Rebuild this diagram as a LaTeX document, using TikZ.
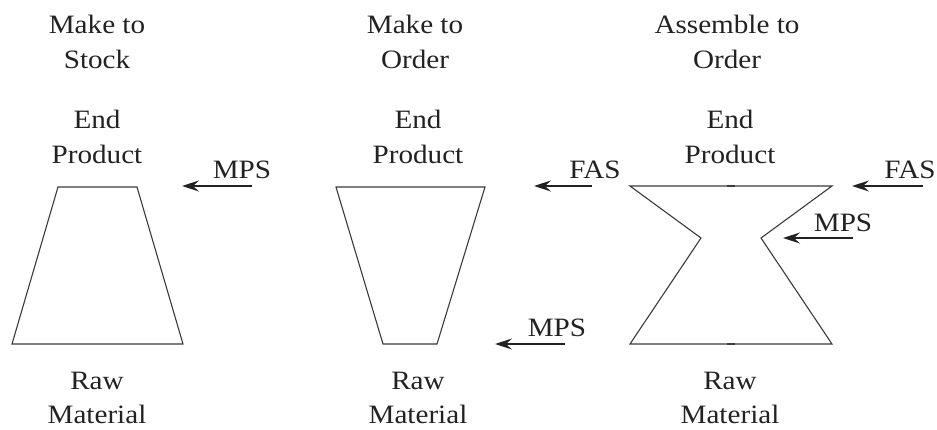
\documentclass[tikz,border=0pt]{standalone}
\usepackage{fontspec}
\setmainfont{Liberation Serif}[FakeStretch=1.1]
\usetikzlibrary{arrows.meta}

\definecolor{ink}{HTML}{222222}
\definecolor{edge}{HTML}{3A3A3A}

\begin{document}
\begin{tikzpicture}[x=1pt,y=-1pt,
  lbl/.style={inner sep=0pt, anchor=base, text=ink,
    font=\fontsize{26.5}{35}\selectfont},
  outline/.style={draw=edge, line width=1.1pt, line join=miter},
  feed/.style={draw=ink, line width=1.4pt,
    -{Stealth[length=17pt, width=11pt, inset=6pt]}},
  tick/.style={draw=edge, line width=2pt}]
  \useasboundingbox (0,0) rectangle (937,429);

  % column headings
  \node[lbl] (h1a) at (97,33) {Make to};
  \node[lbl] (h1b) at (97,68) {Stock};
  \node[lbl] (h2a) at (415,33) {Make to};
  \node[lbl] (h2b) at (415,68) {Order};
  \node[lbl] (h3a) at (727,33) {Assemble to};
  \node[lbl] (h3b) at (727,68) {Order};

  % top and bottom labels
  \foreach \c/\x in {1/97, 2/418, 3/730} {
    \node[lbl] (ep\c a) at (\x,128) {End};
    \node[lbl] (ep\c b) at (\x,163) {Product};
    \node[lbl] (rm\c a) at (\x,389) {Raw};
    \node[lbl] (rm\c b) at (\x,423) {Material};
  }

  % make to stock: narrow top, wide base
  \draw[outline] (58,187) -- (137,187) -- (183,344) -- (12,344) -- cycle;

  % make to order: wide top, narrow base
  \draw[outline] (336,187) -- (485,187) -- (437,344) -- (383,344) -- cycle;

  % assemble to order: hourglass
  \draw[outline] (630,186) -- (832,186) -- (761,238) -- (832,344)
    -- (630,344) -- (701,238) -- cycle;
  \draw[tick] (727,186) -- (735,186);
  \draw[tick] (727,344) -- (735,344);

  % schedule arrows
  \coordinate (m1s) at (252,186);  \coordinate (m1e) at (182,186);
  \coordinate (f2s) at (592,186);  \coordinate (f2e) at (534,186);
  \coordinate (m2s) at (565,344);  \coordinate (m2e) at (495,344);
  \coordinate (f3s) at (923,186);  \coordinate (f3e) at (852,186);
  \coordinate (m3s) at (853,238);  \coordinate (m3e) at (783,238);
  \draw[feed] (m1s) -- (m1e);
  \draw[feed] (f2s) -- (f2e);
  \draw[feed] (m2s) -- (m2e);
  \draw[feed] (f3s) -- (f3e);
  \draw[feed] (m3s) -- (m3e);

  \node[lbl] (t1) at (242,178) {MPS};
  \node[lbl] (t2) at (595,178) {FAS};
  \node[lbl] (t3) at (557,336) {MPS};
  \node[lbl] (t4) at (910,178) {FAS};
  \node[lbl] (t5) at (843,231) {MPS};
\end{tikzpicture}
\end{document}
